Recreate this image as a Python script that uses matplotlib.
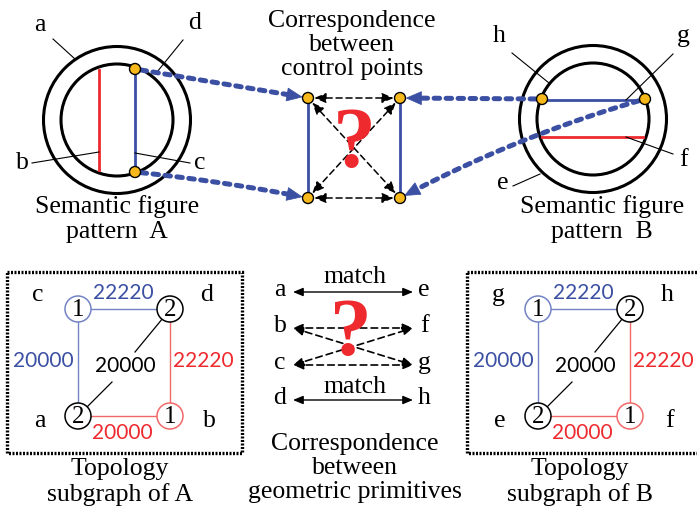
import numpy as np
import matplotlib
matplotlib.use('Agg')
import matplotlib.pyplot as plt
from matplotlib.patches import Circle, Rectangle, FancyArrowPatch, Polygon


# text content of the diagram
primitives_A = ['a', 'b', 'c', 'd']
primitives_B = ['e', 'f', 'g', 'h']
# node labels of the topology subgraphs (corner order: top-left, top-right, bottom-left, bottom-right)
corners_A = ['c', 'd', 'a', 'b']
corners_B = ['g', 'h', 'e', 'f']
node_values = ['1', '2', '2', '1']
# edge weights: top, left, diagonal, right, bottom
edge_weights = ['22220', '20000', '20000', '22220', '20000']
match_state = ['match', '?', '?', 'match']
cap_pattern_A = 'Semantic figure\npattern  A'
cap_pattern_B = 'Semantic figure\npattern  B'
cap_control = 'Correspondence\nbetween\ncontrol points'
cap_topo_A = 'Topology\nsubgraph of A'
cap_topo_B = 'Topology\nsubgraph of B'
cap_geom = 'Correspondence\nbetween\ngeometric primitives'

BLUE = '#3b4fa3'
RED = '#ee2a2f'
YEL = '#f7b81b'
LBLUE = '#7383c6'
LRED = '#f26868'
SERIF = ['Liberation Serif', 'DejaVu Serif']
SANS = ['Lato', 'DejaVu Sans']
FS = 18.5

fig = plt.figure(figsize=[6.97, 5.12], dpi=100)
ax = fig.add_axes([0, 0, 1, 1])
ax.set_xlim(0, 697)
ax.set_ylim(512, 0)
ax.axis('off')


def txt(x, y, s, size=FS, color='black', fam=SERIF, ls=1.12, **kw):
    ax.text(x, y, s, fontsize=size, color=color, family=fam,
            ha='center', va='center', linespacing=ls, **kw)


def dot(x, y):
    ax.add_patch(Circle((x, y), 5.5, fc=YEL, ec='black', lw=1.0, zorder=6))


def leader(x1, y1, x2, y2):
    ax.plot([x1, x2], [y1, y2], color='black', lw=0.8)


def rings(cx, cy):
    ax.add_patch(Circle((cx, cy), 73.5, fill=False, ec='black', lw=2.2))
    ax.add_patch(Circle((cx, cy), 56, fill=False, ec='black', lw=2.2))


def blue_arrow(p0, p1, bulge):
    # quadratic curve from p0 to p1, dashed shaft and solid head
    p0, p1 = np.array(p0, float), np.array(p1, float)
    d = p1 - p0
    n = np.array([-d[1], d[0]]) / np.hypot(*d)
    c = (p0 + p1) / 2 + n * bulge
    t = np.linspace(0, 1, 200)[:, None]
    pts = (1 - t) ** 2 * p0 + 2 * (1 - t) * t * c + t ** 2 * p1
    # stop at the dot edge
    dist = np.hypot(*(pts - p1).T)
    tip_i = np.argmax(dist < 6.5)
    tip = pts[tip_i]
    u = tip - pts[tip_i - 5]
    u = u / np.hypot(*u)
    nn = np.array([-u[1], u[0]])
    base = tip - 15 * u
    shaft = pts[(np.hypot(*(pts - p0).T) > 6) & (np.hypot(*(pts - p1).T) > 19)]
    ax.plot(shaft[:, 0], shaft[:, 1], color=BLUE, lw=3.6, dashes=(1.1, 1.3),
            dash_capstyle='round', zorder=3)
    ax.add_patch(Polygon([tip, base + 6.5 * nn, base - 6.5 * nn], closed=True,
                         fc=BLUE, ec=BLUE, lw=0.5, zorder=3))


# ---- semantic figure pattern A
cxA, cyA = 117, 120
rings(cxA, cyA)
ax.plot([cxA - 18, cxA - 18], [cyA - 50, cyA + 50], color=RED, lw=2)
ax.plot([cxA + 18, cxA + 18], [cyA - 51, cyA + 52], color=BLUE, lw=2)
dA_top = (cxA + 18, cyA - 51)
dA_bot = (cxA + 18, cyA + 52)
txt(40, 25, primitives_A[0])
leader(53, 39, 75, 59)
txt(22, 163, primitives_A[1])
leader(32, 163, 99, 152)
txt(200, 163, primitives_A[2])
leader(190, 163, 135, 153)
txt(195, 23, primitives_A[3])
leader(183, 40, 157, 72)
txt(117, 219, cap_pattern_A)

# ---- semantic figure pattern B
cxB, cyB = 593, 119
rings(cxB, cyB)
ax.plot([cxB - 51, cxB + 52], [cyB - 19, cyB - 19], color=BLUE, lw=2)
ax.plot([cxB - 51, cxB + 50], [cyB + 18, cyB + 18], color=RED, lw=2)
dB_left = (cxB - 51, cyB - 20)
dB_right = (cxB + 52, cyB - 20)
txt(499, 36, primitives_B[3])
leader(512, 53, 549, 83)
txt(683, 36, primitives_B[2])
leader(673, 54, 626, 100)
txt(683, 160, primitives_B[1])
leader(673, 154, 626, 137)
txt(503, 183, primitives_B[0])
leader(513, 186, 540, 174)
txt(602, 219, cap_pattern_B)

# ---- control point correspondence
cp = {'tl': (308, 98), 'tr': (400, 98), 'bl': (308, 198), 'br': (400, 198)}
ax.plot([308, 308], [98, 198], color=BLUE, lw=2)
ax.plot([400, 400], [98, 198], color=BLUE, lw=2)
for a, b in [('tl', 'tr'), ('bl', 'br'), ('tl', 'br'), ('tr', 'bl')]:
    ax.add_patch(FancyArrowPatch(cp[a], cp[b], arrowstyle='<|-|>,head_length=0.7,head_width=0.3',
                                 mutation_scale=10, color='black', lw=1.1,
                                 linestyle=(0, (4, 2.5)), shrinkA=4.5, shrinkB=4.5, zorder=4))
for p in cp.values():
    dot(*p)
txt(354, 147, match_state[1], size=62, color=RED, weight='bold', zorder=5)
txt(352, 45, cap_control)

# blue dashed arrows from patterns to control points
blue_arrow(dA_top, cp['tl'], 0)
blue_arrow(dA_bot, cp['bl'], -4)
blue_arrow(dB_left, cp['tr'], 0)
blue_arrow(dB_right, cp['br'], 14)
for p in (dA_top, dA_bot, dB_left, dB_right):
    dot(*p)


# ---- topology subgraphs
def topo(x0, corners, caption):
    # x0 is the top-left node x
    tl, tr, bl, br = (x0, 309), (x0 + 92, 309), (x0, 416), (x0 + 92, 416)
    r = 13
    ax.add_patch(Rectangle((x0 - 71, 272), 235, 181, fill=False, ec='black', lw=2.4,
                           linestyle=(0, (0.6, 0.45))))
    ax.plot([tl[0] + r, tr[0] - r], [309, 309], color=LBLUE, lw=1)
    ax.plot([x0, x0], [309 + r, 416 - r], color=LBLUE, lw=1)
    ax.plot([tr[0], tr[0]], [309 + r, 416 - r], color=LRED, lw=1)
    ax.plot([bl[0] + r, br[0] - r], [416, 416], color=LRED, lw=1)
    ax.plot([x0 + 8, x0 + 34], [408, 382], color='black', lw=0.9)
    ax.plot([x0 + 57, x0 + 85], [352, 318], color='black', lw=0.9)
    for (x, y), v, ec in zip([tl, tr, bl, br], node_values, [LBLUE, 'black', 'black', LRED]):
        ax.add_patch(Circle((x, y), r, fc='white', ec=ec, lw=1.1, zorder=4))
        txt(x, y + 1, v, size=18, zorder=5)
    txt(x0 + 45, 293, edge_weights[0], size=15, color=BLUE, fam=SANS)
    txt(x0 - 35, 361, edge_weights[1], size=15, color=BLUE, fam=SANS)
    txt(x0 + 47, 366, edge_weights[2], size=15, fam=SANS)
    txt(x0 + 125, 361, edge_weights[3], size=15, color=RED, fam=SANS)
    txt(x0 + 44, 433, edge_weights[4], size=15, color=RED, fam=SANS)
    for (dx, dy), s in zip([(-40, 295), (129, 295), (-38, 421), (131, 421)], corners):
        txt(x0 + dx, dy, s)
    txt(x0 + 42, 482, caption)


topo(78, corners_A, cap_topo_A)
topo(538, corners_B, cap_topo_B)

# ---- primitive correspondence
rows_y = [292, 328, 365, 400]
for y, l, r in zip(rows_y, primitives_A, primitives_B):
    txt(280, y - 2, l)
    txt(424, y - 2, r)
solid = dict(arrowstyle='<|-|>,head_length=0.6,head_width=0.25', mutation_scale=10,
             color='black', lw=1.0, shrinkA=0, shrinkB=0)
dashed = dict(solid, linestyle=(0, (4, 2.5)), lw=1.2)
ax.add_patch(FancyArrowPatch((293, rows_y[0]), (413, rows_y[0]), **solid))
ax.add_patch(FancyArrowPatch((293, rows_y[3]), (413, rows_y[3]), **solid))
txt(355, rows_y[0] - 15, match_state[0])
txt(355, rows_y[3] - 13, match_state[3])
for i, j in [(1, 1), (2, 2), (1, 2), (2, 1)]:
    ax.add_patch(FancyArrowPatch((293, rows_y[i]), (413, rows_y[j]), **dashed))
txt(351, 335, match_state[2], size=60, color=RED, weight='bold', zorder=5)
txt(355, 468, cap_geom)

fig.savefig('out.png', dpi=100)
